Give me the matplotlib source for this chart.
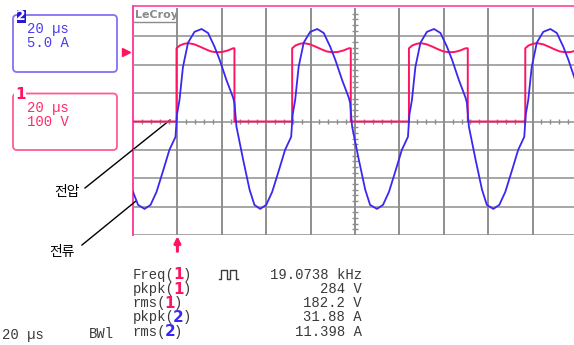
import matplotlib
matplotlib.use('Agg')
import numpy as np
import matplotlib.pyplot as plt
from matplotlib.patches import FancyBboxPatch, Rectangle

# ---- data read from the scope screen ----
# channel 1: voltage (V) vs time (us from left edge of screen)
volt_t = [0, 19.6, 19.6, 21.1, 23.1, 25.1, 27.6, 30.1, 32.6, 35.1, 37.6, 40.1, 42.6, 45.1, 45.7, 45.7,
          71.7, 71.7, 73.2, 75.2, 77.2, 79.7, 82.2, 84.7, 87.2, 89.7, 92.2, 94.7, 97.2, 98.1, 98.1,
          124.3, 124.3, 125.8, 127.8, 129.8, 132.3, 134.8, 137.3, 139.8, 142.3, 144.8, 147.3, 149.8, 150.8, 150.8,
          176.7, 176.7, 178.2, 180.2, 182.2, 184.7, 187.2, 189.7, 192.2, 194.7, 197.2, 199.7, 201.0]
volt_v = [0, 0, 258, 268, 274, 276, 272, 264, 255, 247, 244, 245, 250, 258, 258, 0,
          0, 258, 268, 274, 276, 272, 264, 255, 247, 244, 245, 250, 258, 258, 0,
          0, 258, 268, 274, 276, 272, 264, 255, 247, 244, 245, 250, 258, 258, 0,
          0, 258, 268, 274, 276, 272, 264, 255, 247, 244, 245, 250, 252]

# channel 2: current (A) vs time (us)
cur_t = [0, 2.3, 5.2, 7.9, 10.6, 13.7, 16.4, 19.15, 19.8, 20.95, 22.5, 24.8, 27.7, 30.9, 33.8, 36.7,
         39.0, 42.1, 45.1, 45.7, 46.6, 49.6, 52.5, 54.7,
         57.3, 60.0, 62.7, 65.8, 68.5, 71.25, 71.9, 73.05, 74.6, 76.9, 79.8, 83.0, 85.9, 88.8,
         91.1, 94.2, 97.2, 97.8, 98.7, 101.7, 104.6, 106.8,
         109.9, 112.6, 115.3, 118.4, 121.1, 123.85, 124.5, 125.65, 127.2, 129.5, 132.4, 135.6, 138.5, 141.4,
         143.7, 146.8, 149.8, 150.4, 151.3, 154.3, 157.2, 159.4,
         162.3, 165.0, 167.7, 170.8, 173.5, 176.25, 176.9, 178.05, 179.6, 181.9, 184.8, 188.0, 190.9, 193.8,
         196.1, 199.2, 201.5]
cur_a = [-12.4, -14.7, -15.4, -14.7, -12.4, -8.5, -5.0, -2.7, 1.2, 3.8, 9.6, 13.9, 15.8, 16.3, 15.6, 13.2,
         10.9, 7.3, 4.2, 3.3, -0.9, -6.7, -12.0, -14.7,
         -15.4, -14.7, -12.4, -8.5, -5.0, -2.7, 1.2, 3.8, 9.6, 13.9, 15.8, 16.3, 15.6, 13.2,
         10.9, 7.3, 4.2, 3.3, -0.9, -6.7, -12.0, -14.7,
         -15.4, -14.7, -12.4, -8.5, -5.0, -2.7, 1.2, 3.8, 9.6, 13.9, 15.8, 16.3, 15.6, 13.2,
         10.9, 7.3, 4.2, 3.3, -0.9, -6.7, -12.0, -14.7,
         -15.4, -14.7, -12.4, -8.5, -5.0, -2.7, 1.2, 3.8, 9.6, 13.9, 15.8, 16.3, 15.6, 13.2,
         10.9, 7.3, 4.9]

trig_t = 20        # trigger position (us)
trig_level = 245   # trigger level (V)

meas_names = ['Freq', 'pkpk', 'rms', 'pkpk', 'rms']
meas_ch = ['1', '1', '1', '2', '2']
meas_vals = ['19.0738 kHz', '284 V', '182.2 V', '31.88 A', '11.398 A']

# colours
pink = '#ff1460'
edge = '#ff3fa0'
blue = '#3a28f0'
grid_col = '#8e8e8e'
txt = '#3a3a3a'
mono = 'Liberation Mono'

W, H = 574, 345
fig = plt.figure(figsize=(W / 100, H / 100), dpi=100)

# overlay in pixel coordinates for the scope frame / labels
pax = fig.add_axes([0, 0, 1, 1])
pax.set_xlim(0, W)
pax.set_ylim(H, 0)
pax.axis('off')

# scope graticule: 10 div x 20 us, 8 div x 100 V (5 A)
ax = fig.add_axes([133 / W, 1 - 235 / H, 444 / W, 227 / H])
ax.patch.set_alpha(0)
ax.set_xlim(0, 200)
ax.set_ylim(-400, 400)
ax.axis('off')
ax2 = ax.twinx()
ax2.set_ylim(-20, 20)
ax2.axis('off')

for t in range(20, 201, 20):
    ax.axvline(t, color=grid_col, lw=1.4, zorder=1)
for v in range(-400, 400, 100):
    ax.axhline(v, color=grid_col, lw=1.1, zorder=1)
minor_t = [t for t in np.arange(4, 200, 4) if t % 20]
ax.vlines(minor_t, -9, 9, color=grid_col, lw=1, zorder=1)
minor_v = [v for v in np.arange(-380, 400, 20) if v % 100]
ax.hlines(minor_v, 98.5, 101.5, color=grid_col, lw=1, zorder=1)

# waveforms
ax.plot(volt_t, volt_v, color=pink, lw=1.4, zorder=3)
ax2.plot(cur_t, cur_a, color=blue, lw=1.3, zorder=4)

# trigger level marker and trigger position arrow
ax.plot([-3], [trig_level], marker='>', ms=6, color=pink, clip_on=False)
ax.annotate('', xy=(trig_t, -0.005), xycoords=('data', 'axes fraction'),
            xytext=(trig_t, -0.072), textcoords=('data', 'axes fraction'),
            arrowprops=dict(arrowstyle='-|>', color=pink, lw=2.2, mutation_scale=9,
                            shrinkA=0, shrinkB=0),
            annotation_clip=False)

# screen frame lines
pax.plot([133, W], [5.5, 5.5], color=edge, lw=1.2)
pax.plot([133, 133], [5.5, 235], color=edge, lw=1.4)
pax.text(134.5, 18.5, 'LeCroy', fontsize=8, fontweight='bold', color='#8a8a8a')
pax.plot([134, 175], [21.5, 21.5], color='#8a8a8a', lw=1)

# channel boxes
pax.add_patch(FancyBboxPatch((13, 15), 104, 57, boxstyle='round,pad=0,rounding_size=4',
                             fc='none', ec='#8272f2', lw=1.3))
pax.add_patch(Rectangle((16.5, 9.5), 9, 13, fc='#2a18d8', ec='none'))
pax.text(21, 16.5, '2', color='white', fontsize=10, fontweight='bold', ha='center', va='center')
pax.text(27, 33.3, '20 µs', color='#4a3af0', fontsize=10, family=mono)
pax.text(27, 47.3, '5.0 A', color='#4a3af0', fontsize=10, family=mono)

pax.add_patch(FancyBboxPatch((13, 93.5), 104, 56.5, boxstyle='round,pad=0,rounding_size=4',
                             fc='none', ec='#ff5a96', lw=1.3))
pax.text(20.3, 94.5, '1', color=pink, fontsize=11, fontweight='bold', ha='center', va='center',
         bbox=dict(fc='white', ec='none', pad=0.6))
pax.text(27, 111.7, '20 µs', color='#ff2a6a', fontsize=10, family=mono)
pax.text(27, 125.7, '100 V', color='#ff2a6a', fontsize=10, family=mono)

# annotations (Korean labels)
kr = ['Noto Sans CJK KR', 'DejaVu Sans']
pax.text(67, 192, '전압', fontsize=10, family=kr, ha='center', va='center')
pax.plot([85, 170], [188, 120], color='black', lw=1)
pax.text(62, 252, '전류', fontsize=10, family=kr, ha='center', va='center')
pax.plot([82, 136], [245, 201], color='black', lw=1)

# measurement table
cw = 8.33
for i, (name, ch, val) in enumerate(zip(meas_names, meas_ch, meas_vals)):
    y = 278.8 + 14.2 * i
    pax.text(132.3, y, name + '(', color=txt, fontsize=10, family=mono)
    dx = 132.3 + (len(name) + 1) * cw
    pax.text(dx + cw / 2, y + 0.5, ch, color=pink if ch == '1' else blue, fontsize=11,
             fontweight='bold', ha='center')
    pax.text(dx + cw, y, ')', color=txt, fontsize=10, family=mono)
    pax.text(361.7, y, val, color=txt, fontsize=10, family=mono, ha='right')

# pulse symbol next to Freq
pax.plot([219, 221, 221, 227, 227, 230, 230, 236, 236, 238],
         [279, 279, 270, 270, 279, 279, 270, 270, 279, 279], color=txt, lw=1)

# bottom status line (cut off by the screen edge)
clip = Rectangle((0, 0), 130, 336, transform=pax.transData)
for x, s in [(1.7, '20 µs'), (89, 'BWl')]:
    t_ = pax.text(x, 338.5, s, color=txt, fontsize=10, family=mono)
    t_.set_clip_path(clip)

fig.savefig('out.png', dpi=100)
